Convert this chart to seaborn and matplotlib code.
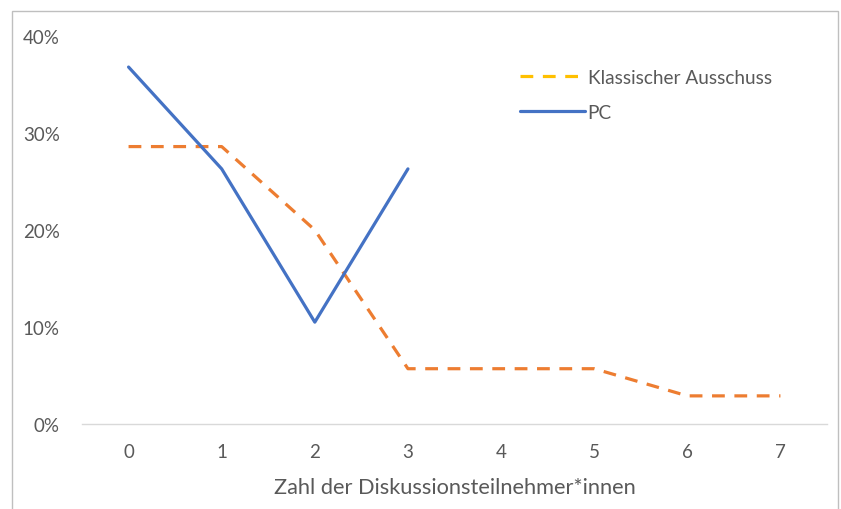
import pandas as pd
import matplotlib.pyplot as plt
import seaborn as sns
from matplotlib.lines import Line2D
from matplotlib.patches import Rectangle
from matplotlib.ticker import PercentFormatter

# Daten
teilnehmer = [0, 1, 2, 3, 4, 5, 6, 7]
ausschuss = [0.286, 0.286, 0.200, 0.057, 0.057, 0.057, 0.029, 0.029]
pc_x = [0, 1, 2, 3]
pc = [0.368, 0.263, 0.105, 0.263]

df_a = pd.DataFrame({'x': teilnehmer, 'y': ausschuss})
df_p = pd.DataFrame({'x': pc_x, 'y': pc})

sns.set_style('white')
plt.rcParams['font.family'] = ['Lato', 'DejaVu Sans']

fig = plt.figure(figsize=(8.41, 5.10), dpi=100)
ax = fig.add_axes([82/841, 1 - 425/510, (827 - 82)/841, (425 - 37)/510])

sns.lineplot(data=df_a, x='x', y='y', ax=ax, color='#ED7D31', linewidth=2.3,
             dashes=False, linestyle=(0, (4, 3)))
sns.lineplot(data=df_p, x='x', y='y', ax=ax, color='#4472C4', linewidth=2.3)

ax.set_xlim(-0.5, 7.5)
ax.set_ylim(0, 0.4)
ax.set_xticks(teilnehmer)
ax.set_yticks([0, 0.1, 0.2, 0.3, 0.4])
ax.yaxis.set_major_formatter(PercentFormatter(1.0, decimals=0))
ax.tick_params(axis='both', colors='#595959', labelsize=13.5, length=0)
ax.tick_params(axis='x', pad=14)
ax.tick_params(axis='y', pad=16)
ax.set_xlabel('Zahl der Diskussionsteilnehmer*innen', fontsize=15.7, color='#595959', labelpad=12)
ax.set_ylabel('')

for s in ['top', 'right', 'left']:
    ax.spines[s].set_visible(False)
ax.spines['bottom'].set_color('#D9D9D9')
ax.spines['bottom'].set_linewidth(1)

handles = [Line2D([0], [0], color='#FFC000', linewidth=2.3, linestyle=(0, (4, 3))),
           Line2D([0], [0], color='#4472C4', linewidth=2.3)]
leg = ax.legend(handles, ['Klassischer Ausschuss', 'PC'], loc='upper left',
                bbox_to_anchor=(0.565, 0.96), frameon=False, fontsize=13.7,
                handlelength=3.4, handletextpad=0.15, labelspacing=0.95)
for t in leg.get_texts():
    t.set_color('#595959')

fig.patches.append(Rectangle((12/841, -0.1), (838 - 12)/841, 1 - 12/510 + 0.1,
                             transform=fig.transFigure, fill=False,
                             edgecolor='#BFBFBF', linewidth=1))

fig.savefig('out.png', dpi=100)
